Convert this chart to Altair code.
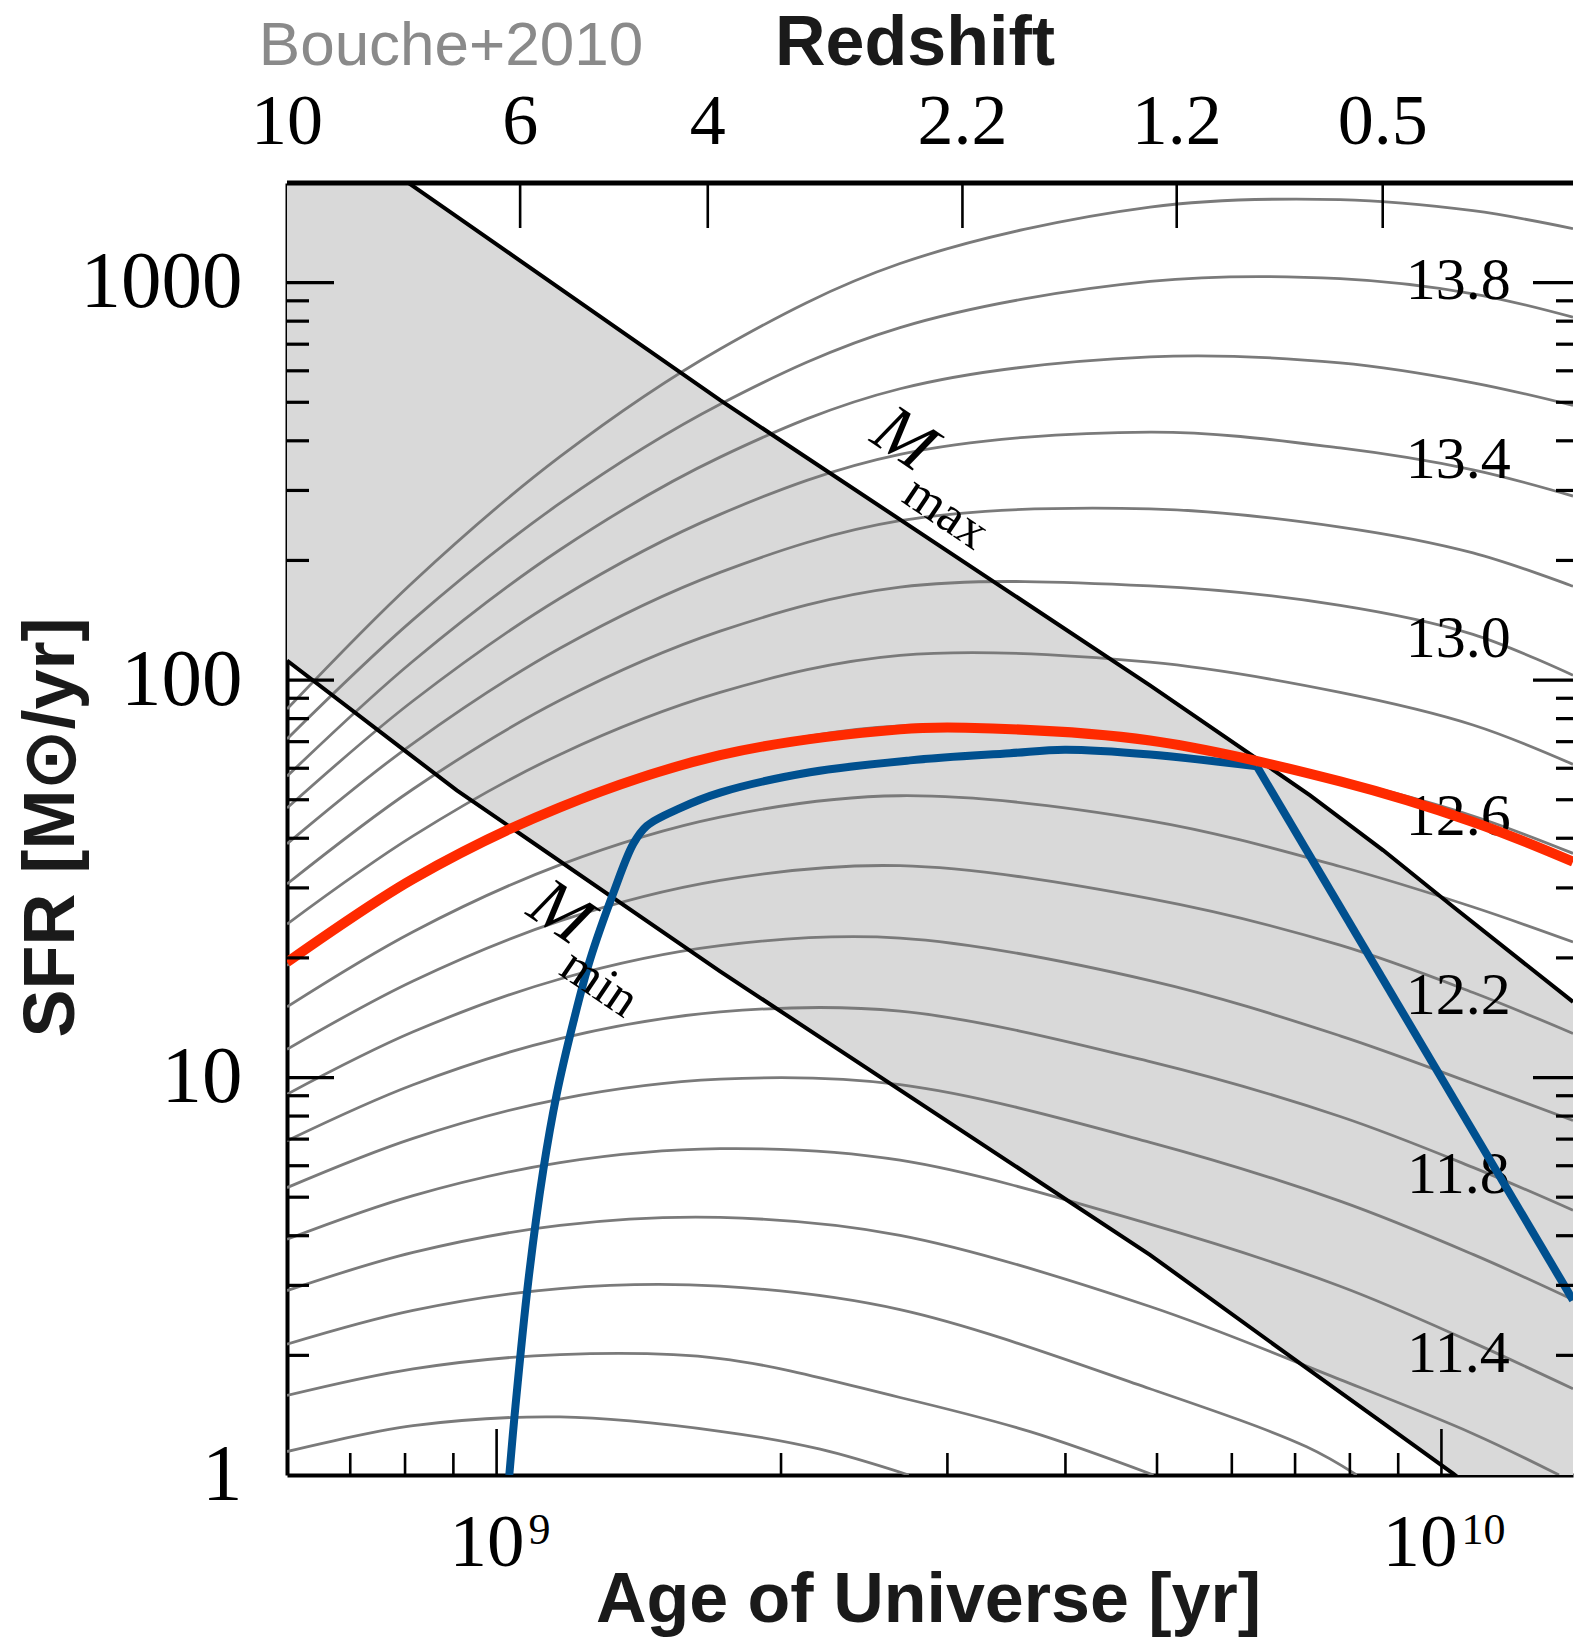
import altair as alt
import pandas as pd

# Plot area size in pixels (left/top/right/bottom padding holds the axes)
W, H = 1286, 1292
PAD = {"left": 287, "top": 183, "right": 1, "bottom": 162}

AGE_DOMAIN = [6.0e8, 1.378e10]   # yr
SFR_DOMAIN = [1.0, 1781.0]       # Msun / yr

SERIF = "Liberation Serif"
SANS = "Liberation Sans"

# ---------------------------------------------------------------------------
# Halo tracks: log10 SFR versus cosmic age (Gyr), one per final log halo mass
# ---------------------------------------------------------------------------
AGE_GRID = [0.600, 0.816, 1.167, 1.724, 2.673, 4.915, 7.812, 10.80, 13.78]

TRACKS = {
    "14.0": (AGE_GRID, [1.927, 2.247, 2.562, 2.833, 3.048, 3.190, 3.209, 3.181, 3.136]),
    "13.8": (AGE_GRID, [1.852, 2.152, 2.445, 2.694, 2.887, 3.003, 3.010, 2.972, 2.913]),
    "13.6": (AGE_GRID, [1.758, 2.048, 2.328, 2.561, 2.733, 2.813, 2.798, 2.748, 2.691]),
    "13.4": (AGE_GRID, [1.678, 1.948, 2.206, 2.417, 2.568, 2.624, 2.584, 2.529, 2.463]),
    "13.2": (AGE_GRID, [1.588, 1.841, 2.080, 2.271, 2.401, 2.431, 2.385, 2.320, 2.236]),
    "13.0": (AGE_GRID, [1.487, 1.726, 1.949, 2.123, 2.234, 2.237, 2.188, 2.115, 2.012]),
    "12.8": (AGE_GRID, [1.386, 1.608, 1.813, 1.969, 2.062, 2.045, 1.969, 1.887, 1.788]),
    "12.6": (AGE_GRID, [1.282, 1.491, 1.675, 1.811, 1.885, 1.845, 1.750, 1.658, 1.564]),
    "12.4": (AGE_GRID, [1.178, 1.367, 1.535, 1.655, 1.709, 1.646, 1.531, 1.429, 1.341]),
    "12.2": (AGE_GRID, [1.071, 1.243, 1.394, 1.496, 1.533, 1.450, 1.333, 1.214, 1.111]),
    "12.0": (AGE_GRID, [0.958, 1.115, 1.248, 1.332, 1.351, 1.244, 1.105, 0.985, 0.892]),
    "11.8": (AGE_GRID, [0.841, 0.982, 1.098, 1.165, 1.167, 1.040, 0.902, 0.774, 0.666]),
    "11.6": (AGE_GRID, [0.723, 0.847, 0.946, 0.996, 0.982, 0.837, 0.689, 0.555, 0.441]),
    "11.4": (AGE_GRID, [0.593, 0.703, 0.786, 0.821, 0.792, 0.631, 0.475, 0.333, 0.217]),
    "11.2": ([0.600, 0.816, 1.167, 1.724, 2.673, 4.915, 7.812, 10.80, 13.32],
             [0.464, 0.560, 0.628, 0.648, 0.603, 0.424, 0.240, 0.104, 0.000]),
    "11.0": ([0.600, 0.816, 1.167, 1.724, 2.673, 4.915, 7.199, 8.134],
             [0.329, 0.414, 0.469, 0.475, 0.416, 0.217, 0.071, 0.000]),
    "10.8": ([0.600, 0.816, 1.167, 1.724, 2.673, 3.670, 4.957],
             [0.200, 0.267, 0.303, 0.293, 0.195, 0.109, 0.000]),
    "10.6": ([0.600, 0.816, 1.167, 1.724, 2.200, 2.730],
             [0.059, 0.124, 0.146, 0.110, 0.065, 0.000]),
}

# Mass labels written next to the tracks
MASS_LABELS = ["13.8", "13.4", "13.0", "12.6", "12.2", "11.8", "11.4"]
MASS_LABEL_SFR = [1009, 357, 127, 45.2, 16.0, 5.68, 2.01]
MASS_LABEL_AGE_GYR = 10.42

# Shaded band between the M_min and M_max tracks
BAND_AGE_GYR = [0.600, 0.8065, 0.9076, 1.724, 4.915, 7.261, 8.677, 10.29, 13.78]
BAND_UPPER = [3050, 1782, 1466, 506, 97.0, 51.3, 37.3, 26.9, 15.5]
BAND_LOWER = [112, 65.4, 52.8, 18.5, 3.58, 1.83, 1.35, 1.008, 0.58]

# Red and blue star-formation histories
RED_AGE_GYR = [0.600, 0.816, 1.167, 1.724, 2.673, 3.136, 4.915, 7.812, 10.80, 13.78]
RED_LOGSFR = [1.290, 1.500, 1.680, 1.811, 1.876, 1.880, 1.848, 1.745, 1.643, 1.543]

BLUE_AGE_GYR = [1.0314, 1.0449, 1.0802, 1.1204, 1.1577, 1.2055, 1.2556, 1.3290, 1.3953,
                1.4416, 1.5640, 1.7241, 2.1464, 2.7390, 3.4955, 3.9930, 4.9165, 6.3766, 13.78]
BLUE_LOGSFR = [0.000, 0.151, 0.487, 0.767, 0.958, 1.139, 1.296, 1.464, 1.588,
               1.633, 1.678, 1.717, 1.768, 1.798, 1.816, 1.825, 1.813, 1.783, 0.440]
BLUE_KINK = 17   # index where the quenching branch starts

# Top axis: redshift labels at the corresponding cosmic age
Z_LABELS = ["10", "6", "4", "2.2", "1.2", "0.5"]
Z_AGE_GYR = [0.600, 1.059, 1.673, 3.112, 5.246, 8.667]

# Tick values
Y_MAJOR = [10, 100, 1000]
Y_MINOR = [m * d for d in (1, 10, 100) for m in range(2, 10)]
X_MAJOR = [1e9, 1e10]
X_MINOR = [7e8, 8e8, 9e8] + [m * 1e9 for m in range(2, 10)]

# ---------------------------------------------------------------------------
GYR = 1e9
xs = alt.Scale(type="log", domain=AGE_DOMAIN, nice=False)
ys = alt.Scale(type="log", domain=SFR_DOMAIN, nice=False)

x_axis = alt.Axis(
    title="Age of Universe [yr]", labels=False, ticks=False, grid=False,
    domainColor="black", domainWidth=4,
    titleFont=SANS, titleFontSize=70, titleFontWeight="bold", titleColor="#1a1a1a",
    titleBaseline="alphabetic", titleAlign="center", titleX=641, titleY=146,
)
y_axis = alt.Axis(
    values=[1, 10, 100, 1000], format="d", ticks=False, grid=False,
    labelFont=SERIF, labelFontSize=81, labelColor="black", labelPadding=45,
    labelBaseline="middle", labelOverlap=False, labelFlush=False,
    domainColor="black", domainWidth=4,
    title="SFR [M⊙/yr]", titleFont=SANS, titleFontSize=72, titleFontWeight="bold",
    titleColor="#1a1a1a", titleAngle=270, titleBaseline="alphabetic",
    titleAlign="center", titleX=-214, titleY=644,
)


def X(field="age"):
    return alt.X(f"{field}:Q", scale=xs, axis=x_axis)


def Y(field="sfr"):
    return alt.Y(f"{field}:Q", scale=ys, axis=y_axis)


one = pd.DataFrame({"k": [0]})

track_rows = []
for mass, (ages, logs) in TRACKS.items():
    for i, (a, l) in enumerate(zip(ages, logs)):
        track_rows.append({"mass": mass, "idx": i, "age": a * GYR, "sfr": 10 ** l})
track_df = pd.DataFrame(track_rows)

band_df = pd.DataFrame({
    "age": [a * GYR for a in BAND_AGE_GYR],
    "upper": BAND_UPPER,
    "lower": BAND_LOWER,
})

red_df = pd.DataFrame({"age": [a * GYR for a in RED_AGE_GYR],
                       "sfr": [10 ** l for l in RED_LOGSFR]})
blue_df = pd.DataFrame({"age": [a * GYR for a in BLUE_AGE_GYR],
                        "sfr": [10 ** l for l in BLUE_LOGSFR]})
blue_rise = blue_df.iloc[: BLUE_KINK + 1]
blue_fall = blue_df.iloc[BLUE_KINK:]

label_df = pd.DataFrame({"label": MASS_LABELS, "sfr": MASS_LABEL_SFR,
                         "age": [MASS_LABEL_AGE_GYR * GYR] * len(MASS_LABELS)})
z_df = pd.DataFrame({"label": Z_LABELS, "age": [a * GYR for a in Z_AGE_GYR]})

# ---------------------------------------------------------------------------
band = alt.Chart(band_df).mark_area(color="#d9d9d9", clip=True).encode(
    x=X(), y=Y("upper"), y2="lower:Q",
)

tracks = alt.Chart(track_df).mark_line(
    color="#7a7a7a", strokeWidth=2.8, interpolate="catmull-rom", clip=True
).encode(x=X(), y=Y(), detail="mass:N", order="idx:Q")

mass_labels = alt.Chart(label_df).mark_text(
    font=SERIF, fontSize=60, color="black", align="center", baseline="middle"
).encode(x=X(), y=Y(), text="label:N")

m_max = alt.Chart(band_df).mark_line(color="black", strokeWidth=4, clip=True).encode(
    x=X(), y=Y("upper"))
m_min = alt.Chart(band_df).mark_line(color="black", strokeWidth=4, clip=True).encode(
    x=X(), y=Y("lower"))

blue1 = alt.Chart(blue_rise).mark_line(
    color="#00508f", strokeWidth=8, interpolate="catmull-rom", clip=True
).encode(x=X(), y=Y())
blue2 = alt.Chart(blue_fall).mark_line(color="#00508f", strokeWidth=8, clip=True).encode(
    x=X(), y=Y())
red = alt.Chart(red_df).mark_line(
    color="#ff2a00", strokeWidth=10, interpolate="catmull-rom", clip=True
).encode(x=X(), y=Y())


# Inward-pointing ticks on all four sides
def hticks(values, x0, x1, width):
    return alt.Chart(pd.DataFrame({"sfr": values})).mark_rule(
        color="black", strokeWidth=width).encode(
        y=Y(), x=alt.value(x0), x2=alt.value(x1))


def vticks(values, y0, y1, width):
    return alt.Chart(pd.DataFrame({"age": values})).mark_rule(
        color="black", strokeWidth=width).encode(
        x=X(), y=alt.value(y0), y2=alt.value(y1))


ticks = [
    hticks(Y_MAJOR, 0, 47, 3.2),
    hticks(Y_MINOR, 0, 22, 3.2),
    hticks(Y_MAJOR, W, W - 40, 3.2),
    hticks(Y_MINOR, W, W - 17, 3.2),
    vticks(X_MAJOR, H, H - 46, 2.6),
    vticks(X_MINOR, H, H - 22, 2.6),
    vticks([a * GYR for a in Z_AGE_GYR[1:]], 0, 45, 2.6),
]

top_border = alt.Chart(one).mark_rule(color="black", strokeWidth=5).encode(
    x=alt.value(0), x2=alt.value(W), y=alt.value(0))

z_text = alt.Chart(z_df).mark_text(
    font=SERIF, fontSize=72, color="black", align="center", baseline="alphabetic"
).encode(x=X(), y=alt.value(-39), text="label:N")

redshift_title = alt.Chart(one).mark_text(
    text="Redshift", font=SANS, fontSize=70, fontWeight="bold", color="#1a1a1a",
    align="center", baseline="alphabetic"
).encode(x=alt.value(628), y=alt.value(-118))

source_text = alt.Chart(one).mark_text(
    text="Bouche+2010", font=SANS, fontSize=62, color="#8a8a8a",
    align="center", baseline="alphabetic"
).encode(x=alt.value(164), y=alt.value(-118))


def power_label(value, exponent, dx_base, dx_exp):
    d = pd.DataFrame({"age": [value]})
    base = alt.Chart(d).mark_text(
        text="10", font=SERIF, fontSize=75, color="black", align="right",
        baseline="alphabetic", dx=dx_base
    ).encode(x=X(), y=alt.value(H + 91))
    sup = alt.Chart(d).mark_text(
        text=exponent, font=SERIF, fontSize=44, color="black", align="left",
        baseline="alphabetic", dx=dx_exp
    ).encode(x=X(), y=alt.value(H + 69))
    return [base, sup]


x_labels = power_label(1e9, "9", 28, 32) + power_label(1e10, "10", 16, 20)


# Rotated M_max / M_min annotations along the band edges
def band_label(age_gyr, sfr, text, size, style):
    return alt.Chart(pd.DataFrame({"age": [age_gyr * GYR], "sfr": [sfr]})).mark_text(
        text=text, font=SERIF, fontSize=size, fontStyle=style, color="black",
        align="center", baseline="middle", angle=34
    ).encode(x=X(), y=Y())


band_labels = [
    band_label(2.70, 403, "M", 70, "italic"),
    band_label(2.99, 264, "max", 52, "normal"),
    band_label(1.168, 26.0, "M", 70, "italic"),
    band_label(1.286, 17.3, "min", 52, "normal"),
]

chart = alt.layer(
    band, tracks, mass_labels, m_max, m_min, blue1, blue2, red,
    *ticks, top_border, z_text, redshift_title, source_text, *x_labels, *band_labels,
).properties(
    width=W, height=H, padding=PAD,
    autosize=alt.AutoSizeParams(type="none"),
    background="white",
).configure_view(stroke=None)

chart.save("out.html", embed_options={"renderer": "svg", "actions": False})
